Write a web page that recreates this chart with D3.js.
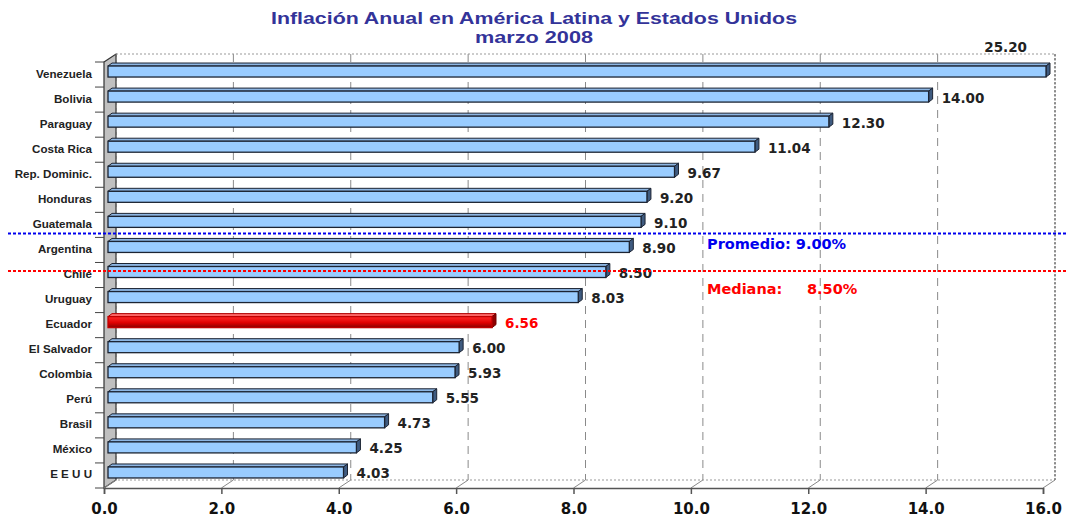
<!DOCTYPE html>
<html>
<head>
<meta charset="utf-8">
<script src="https://cdn.jsdelivr.net/npm/d3@7"></script>
<style>
  body { margin: 0; background: #fff; }
  svg { display: block; }
</style>
</head>
<body>
<svg width="1067" height="518"></svg>
<script>
const width = 1067;
const height = 518;

const countries = [
    "Venezuela", "Bolivia", "Paraguay", "Costa Rica", "Rep. Dominic.",
    "Honduras", "Guatemala", "Argentina", "Chile", "Uruguay", "Ecuador",
    "El Salvador", "Colombia", "Perú", "Brasil", "México", "E E U U",
];
const inflation = [
    25.20, 14.00, 12.30, 11.04, 9.67, 9.20, 9.10, 8.90, 8.50, 8.03, 6.56,
    6.00, 5.93, 5.55, 4.73, 4.25, 4.03,
];
const highlight = "Ecuador";
const xTicks = [0, 2, 4, 6, 8, 10, 12, 14, 16];
const titleLines = ["Inflación Anual en América Latina y Estados Unidos", "marzo 2008"];

const data = countries.map((c, i) => ({ country: c, value: inflation[i] }));

// 3d offsets
const depth = { dx: 12, dy: -8 };
const barDepth = { dx: 4, dy: -3 };

const svg = d3.select("svg");

const x = d3.scaleLinear().domain([0, 16]).range([104, 1043]);
const y = d3.scaleBand().domain(countries).range([62, 488]);
const bw = y.bandwidth();
const yc = (c) => y(c) + bw / 2;

const defs = svg.append("defs");
const grad = defs.append("linearGradient")
    .attr("id", "redGrad").attr("x1", 0).attr("y1", 0).attr("x2", 0).attr("y2", 1);
grad.append("stop").attr("offset", "0%").attr("stop-color", "#ff2a2a");
grad.append("stop").attr("offset", "55%").attr("stop-color", "#e00000");
grad.append("stop").attr("offset", "100%").attr("stop-color", "#8a0000");

// title (stretched a bit, the original font is wider)
svg.append("g")
    .selectAll("text")
    .data(titleLines)
    .join("text")
    .attr("x", 534)
    .attr("y", (d, i) => 24 + i * 19)
    .attr("text-anchor", "middle")
    .attr("textLength", (d, i) => i === 0 ? 526 : 118)
    .attr("lengthAdjust", "spacingAndGlyphs")
    .style("font-family", "'Liberation Sans', Arial, sans-serif")
    .style("font-weight", "bold")
    .style("font-size", "17px")
    .style("fill", "#333399")
    .text((d) => d);

const x0 = x(0), x1 = x(16);
const yTop = 62, yBot = 488;

// left wall
svg.append("polygon")
    .attr("points", [
        [x0, yTop], [x0 + depth.dx, yTop + depth.dy],
        [x0 + depth.dx, yBot + depth.dy], [x0, yBot],
    ].map((p) => p.join(",")).join(" "))
    .attr("fill", "#c0c0c0")
    .attr("stroke", "#333")
    .attr("stroke-width", 1.2);

// back wall gridlines
svg.append("g")
    .selectAll("line")
    .data(xTicks.slice(1, -1))
    .join("line")
    .attr("x1", (d) => x(d) + depth.dx)
    .attr("x2", (d) => x(d) + depth.dx)
    .attr("y1", yTop + depth.dy)
    .attr("y2", yBot + depth.dy)
    .attr("stroke", "#8a8a8a")
    .attr("stroke-width", 1)
    .attr("stroke-dasharray", "8,6");

// back wall frame (dotted)
svg.append("path")
    .attr("d", `M${x0 + depth.dx},${yTop + depth.dy}H${x1 + depth.dx}V${yBot + depth.dy}H${x0 + depth.dx}`)
    .attr("fill", "none")
    .attr("stroke", "#999")
    .attr("stroke-dasharray", "2,2");
svg.append("line")
    .attr("x1", x1 + depth.dx).attr("x2", x1 + depth.dx)
    .attr("y1", yTop + depth.dy).attr("y2", yBot + depth.dy)
    .attr("stroke", "#777")
    .attr("stroke-width", 1.5)
    .attr("stroke-dasharray", "2,2");
svg.append("line")
    .attr("x1", x0 + depth.dx).attr("x2", x0 + depth.dx)
    .attr("y1", yTop + depth.dy).attr("y2", yBot + depth.dy)
    .attr("stroke", "#666")
    .attr("stroke-dasharray", "3,3");

// floor diagonals
svg.append("g")
    .selectAll("line")
    .data(xTicks)
    .join("line")
    .attr("x1", (d) => x(d))
    .attr("y1", yBot)
    .attr("x2", (d) => x(d) + depth.dx)
    .attr("y2", yBot + depth.dy)
    .attr("stroke", "#888");

// left ticks
svg.append("g")
    .selectAll("line")
    .data(countries.concat(["__end"]))
    .join("line")
    .attr("x1", x0 - 9)
    .attr("x2", x0)
    .attr("y1", (d, i) => yTop + i * bw)
    .attr("y2", (d, i) => yTop + i * bw)
    .attr("stroke", "#444");

// bottom axis
const xAxis = svg.append("g")
    .attr("transform", `translate(0,${yBot})`)
    .call(d3.axisBottom(x).tickValues(xTicks).tickSize(6).tickPadding(9).tickFormat(d3.format(".1f")));
xAxis.select(".domain").attr("stroke", "#555").attr("stroke-width", 1.5);
xAxis.selectAll(".tick line").attr("stroke", "#555").attr("stroke-width", 1.5);
xAxis.selectAll(".tick text")
    .style("font-family", "'DejaVu Sans', Verdana, sans-serif")
    .style("font-weight", "bold")
    .style("font-size", "15px")
    .style("fill", "#111");

// category labels
svg.append("g")
    .selectAll("text")
    .data(countries)
    .join("text")
    .attr("x", 92)
    .attr("y", (d) => yc(d) + 3)
    .attr("text-anchor", "end")
    .style("font-family", "'Liberation Sans', Arial, sans-serif")
    .style("font-weight", "bold")
    .style("font-size", "11.6px")
    .style("fill", "#222")
    .text((d) => d);

// bars
const bars = svg.append("g")
    .selectAll("g")
    .data(data)
    .join("g");

const faceX0 = x0 + 4;
const faceX1 = (d) => x(Math.min(d.value, 16)) + 3;
const faceT = (d) => yc(d.country) - 8.5;
const faceH = 11;
const isHi = (d) => d.country === highlight;

bars.append("polygon")
    .attr("points", (d) => {
        const t = faceT(d), r = faceX1(d);
        return [[faceX0, t], [faceX0 + barDepth.dx, t + barDepth.dy],
            [r + barDepth.dx, t + barDepth.dy], [r, t]].map((p) => p.join(",")).join(" ");
    })
    .attr("fill", (d) => isHi(d) ? "#ff6a6a" : "#8db6e3")
    .attr("stroke", (d) => isHi(d) ? "#b00000" : "#1c2433")
    .attr("stroke-width", 1)
    .attr("stroke-linejoin", "round");

bars.append("polygon")
    .attr("points", (d) => {
        const t = faceT(d), r = faceX1(d);
        return [[r, t], [r + barDepth.dx, t + barDepth.dy],
            [r + barDepth.dx, t + faceH + barDepth.dy], [r, t + faceH]].map((p) => p.join(",")).join(" ");
    })
    .attr("fill", (d) => isHi(d) ? "#900000" : "#3f5b80")
    .attr("stroke", (d) => isHi(d) ? "#700000" : "#1c2433")
    .attr("stroke-width", 1)
    .attr("stroke-linejoin", "round");

bars.append("rect")
    .attr("x", faceX0)
    .attr("y", faceT)
    .attr("width", (d) => faceX1(d) - faceX0)
    .attr("height", faceH)
    .attr("fill", (d) => isHi(d) ? "url(#redGrad)" : "#99ccff")
    .attr("stroke", (d) => isHi(d) ? "#c00000" : "#1c2433")
    .attr("stroke-width", 1.3);

// value labels
svg.append("g")
    .selectAll("text")
    .data(data)
    .join("text")
    .attr("x", (d) => d.value > 16 ? x(16) - 16 : x(d.value) + 16)
    .attr("y", (d) => d.value > 16 ? yc(d.country) - 23 : yc(d.country) + 3)
    .attr("text-anchor", (d) => d.value > 16 ? "end" : "start")
    .style("font-family", "'DejaVu Sans', Verdana, sans-serif")
    .style("font-weight", "bold")
    .style("font-size", "13.5px")
    .style("fill", (d) => isHi(d) ? "#ff0000" : "#222")
    .text((d) => d3.format(".2f")(d.value));

// reference lines: mean and median
const mean = d3.mean(inflation);
const median = d3.median(inflation);

const yForValue = (v) => {
    for (let i = 0; i < data.length - 1; i++) {
        const a = data[i], b = data[i + 1];
        if (v <= a.value && v >= b.value) {
            const t = a.value === b.value ? 0 : (a.value - v) / (a.value - b.value);
            return yc(a.country) + t * bw;
        }
    }
    return yc(data[data.length - 1].country);
};

const refs = [
    { label: "Promedio:", value: mean, color: "#0000ee", dy: 16 },
    { label: "Mediana:", value: median, color: "#ff0000", dy: 23 },
];

refs.forEach((r) => {
    const ly = yForValue(r.value) - 4;
    svg.append("line")
        .attr("x1", 8).attr("x2", width)
        .attr("y1", ly).attr("y2", ly)
        .attr("stroke", r.color)
        .attr("stroke-width", 1.8)
        .attr("stroke-dasharray", "3,2");
    const t = svg.append("text")
        .attr("x", 707)
        .attr("y", ly + r.dy)
        .style("font-family", "'DejaVu Sans', Verdana, sans-serif")
        .style("font-weight", "bold")
        .style("font-size", "14.5px")
        .style("fill", r.color);
    if (r.label === "Mediana:") {
        t.text(r.label);
        svg.append("text")
            .attr("x", 807)
            .attr("y", ly + r.dy)
            .style("font-family", "'DejaVu Sans', Verdana, sans-serif")
            .style("font-weight", "bold")
            .style("font-size", "14.5px")
            .style("fill", r.color)
            .text(d3.format(".2f")(r.value) + "%");
    } else {
        t.text(r.label + " " + d3.format(".2f")(r.value) + "%");
    }
});
</script>
</body>
</html>
